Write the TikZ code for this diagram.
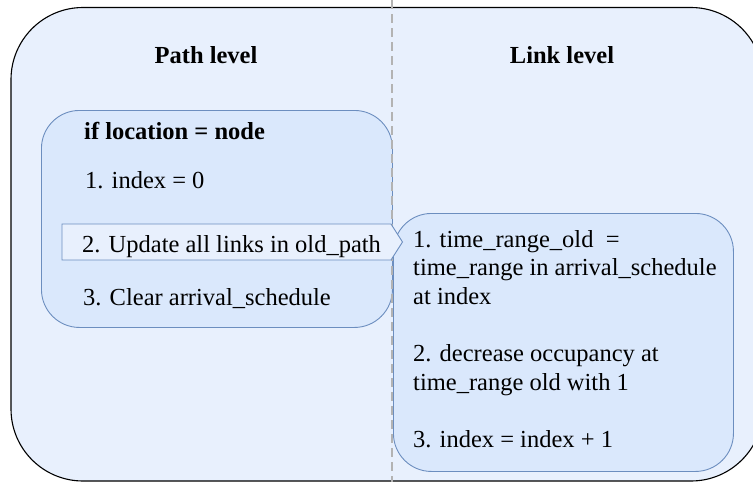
\documentclass[tikz,border=0pt]{standalone}
\usepackage{fontspec}
\setmainfont{Liberation Serif}
\definecolor{panelfill}{HTML}{E8F0FD}
\definecolor{boxfill}{HTML}{DAE8FC}
\definecolor{boxline}{HTML}{6C8EBF}
\definecolor{divider}{HTML}{B3B3B3}
\begin{document}
\begin{tikzpicture}[x=1pt,y=-1pt,
  panel/.style={draw=black, line width=1.1pt, fill=panelfill, rounded corners=72pt},
  stepbox/.style={rectangle, draw=boxline, line width=0.9pt, fill=boxfill,
    rounded corners=38pt, anchor=north west, inner sep=0pt},
  callout/.style={draw=boxline, line width=0.9pt, fill=panelfill},
  splitline/.style={draw=divider, line width=2.6pt, dash pattern=on 9pt off 5pt},
  body/.style={font=\fontsize{24.5}{28.6}\selectfont, anchor=base west, inner sep=0pt},
  heading/.style={font=\bfseries\fontsize{24.5}{28.6}\selectfont, anchor=base, inner sep=0pt}]
  \useasboundingbox (0,0) rectangle (753,482);
  \clip (0,0) rectangle (753,482);

  % outer panel, partly running off the right edge
  \draw[panel] (11,7.5) rectangle (763,481);

  % column headings
  \node[heading] (pathhead) at (206,63) {Path level};
  \node[heading] (linkhead) at (562,63) {Link level};

  % path-level box and link-level box
  \node[stepbox, minimum width=351pt, minimum height=217pt] (pathbox) at (41,110) {};
  \node[stepbox, minimum width=340pt, minimum height=258pt] (linkbox) at (393,213) {};

  % dashed divider between the two levels
  \coordinate (divtop) at (392,0);
  \coordinate (divbot) at (392,482);
  \draw[splitline] (divtop) -- (divbot);

  % callout pointing from the path level into the link level
  \coordinate (cA) at (62,224);
  \coordinate (cB) at (391,224);
  \coordinate (cTip) at (402.5,242);
  \coordinate (cC) at (391,260);
  \coordinate (cD) at (62,260);
  \draw[callout] (cA) -- (cB) -- (cTip) -- (cC) -- (cD) -- cycle;

  % path-level steps
  \node[body, font=\bfseries\fontsize{24.5}{28.6}\selectfont] (cond) at (84,139) {if location = node};
  \node[body] (p1) at (85,188) {1. index = 0};
  \node[body] (p2) at (82,252) {2. Update all links in old\_path};
  \node[body] (p3) at (83,305) {3. Clear arrival\_schedule};

  % link-level steps
  \node[body] (l1a) at (413,247) {1. time\_range\_old\ \ =};
  \node[body] (l1b) at (413,275.6) {time\_range in arrival\_schedule};
  \node[body] (l1c) at (413,304.2) {at index};
  \node[body] (l2a) at (413,361.4) {2. decrease occupancy at};
  \node[body] (l2b) at (413,390) {time\_range old with 1};
  \node[body] (l3) at (413,447.2) {3. index = index + 1};
\end{tikzpicture}
\end{document}
